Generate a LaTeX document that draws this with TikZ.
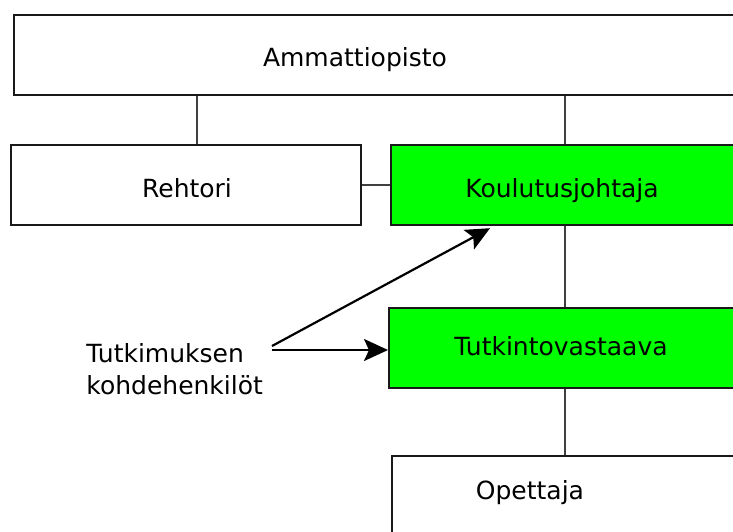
\documentclass[tikz,border=0pt]{standalone}
\usepackage{fontspec}
\setmainfont{DejaVu Sans}
\usetikzlibrary{arrows.meta,positioning}
\definecolor{boxgreen}{RGB}{0,255,0}

\begin{document}
\begin{tikzpicture}[x=0.5pt, y=-0.5pt,
  every node/.style = {font=\fontsize{12.5}{16}\selectfont, inner sep=0pt},
  unit/.style = {draw=black!90, line width=1.1pt, anchor=north west,
    minimum height=40pt}]
    \tikzstyle{boxtitle}=[text height=1.6ex, text depth=0.3ex]
    \tikzstyle{link}=[draw=black!75, line width=0.9pt]
    \tikzstyle{pointer}=[line width=1.1pt, -{Stealth[length=12pt,width=11pt,inset=2.5pt]}]

  \useasboundingbox (0,0) rectangle (733,531);
  \clip (0,0) rectangle (733,531);

  % boxes of the organisation
  \node[unit, minimum width=400pt] (opisto) at (13,14) {};
  \node[unit, minimum width=175pt] (rehtori) at (10,144) {};
  \node[unit, fill=boxgreen, minimum width=200pt] (johtaja) at (390,144) {};
  \node[unit, fill=boxgreen, minimum width=200pt] (vastaava) at (388,307) {};
  \node[unit, minimum width=200pt, minimum height=60pt] (opettaja) at (391,455) {};

  % titles
  \node[boxtitle] (opistoName) at (355,59) {Ammattiopisto};
  \node[boxtitle] (rehtoriName) at (187,190) {Rehtori};
  \node[boxtitle] (johtajaName) at (562,190) {Koulutusjohtaja};
  \node[boxtitle] (vastaavaName) at (561,348) {Tutkintovastaava};
  \node[boxtitle] (opettajaName) at (530,492) {Opettaja};

  % lines of the hierarchy
  \coordinate (spine) at (565,0);
  \draw[link] ([xshift=5.5pt]rehtori.north) -- ([xshift=5.5pt]rehtori.north |- opisto.south);
  \draw[link] (spine |- opisto.south) -- (spine |- johtaja.north);
  \draw[link] (rehtori.east) -- (johtaja.west |- rehtori.east);
  \draw[link] (spine |- johtaja.south) -- (spine |- vastaava.north);
  \draw[link] (spine |- vastaava.south) -- (spine |- opettaja.north);

  % persons studied
  \node[align=left, anchor=west] (kohde) at (86,369) {Tutkimuksen\\kohdehenkilöt};
  \coordinate (src) at (272,350);
  \draw[pointer] ([yshift=2pt]src) -- ([xshift=50pt, yshift=-1pt]johtaja.south west);
  \draw[pointer] (src) -- (vastaava.west |- src);
\end{tikzpicture}
\end{document}
